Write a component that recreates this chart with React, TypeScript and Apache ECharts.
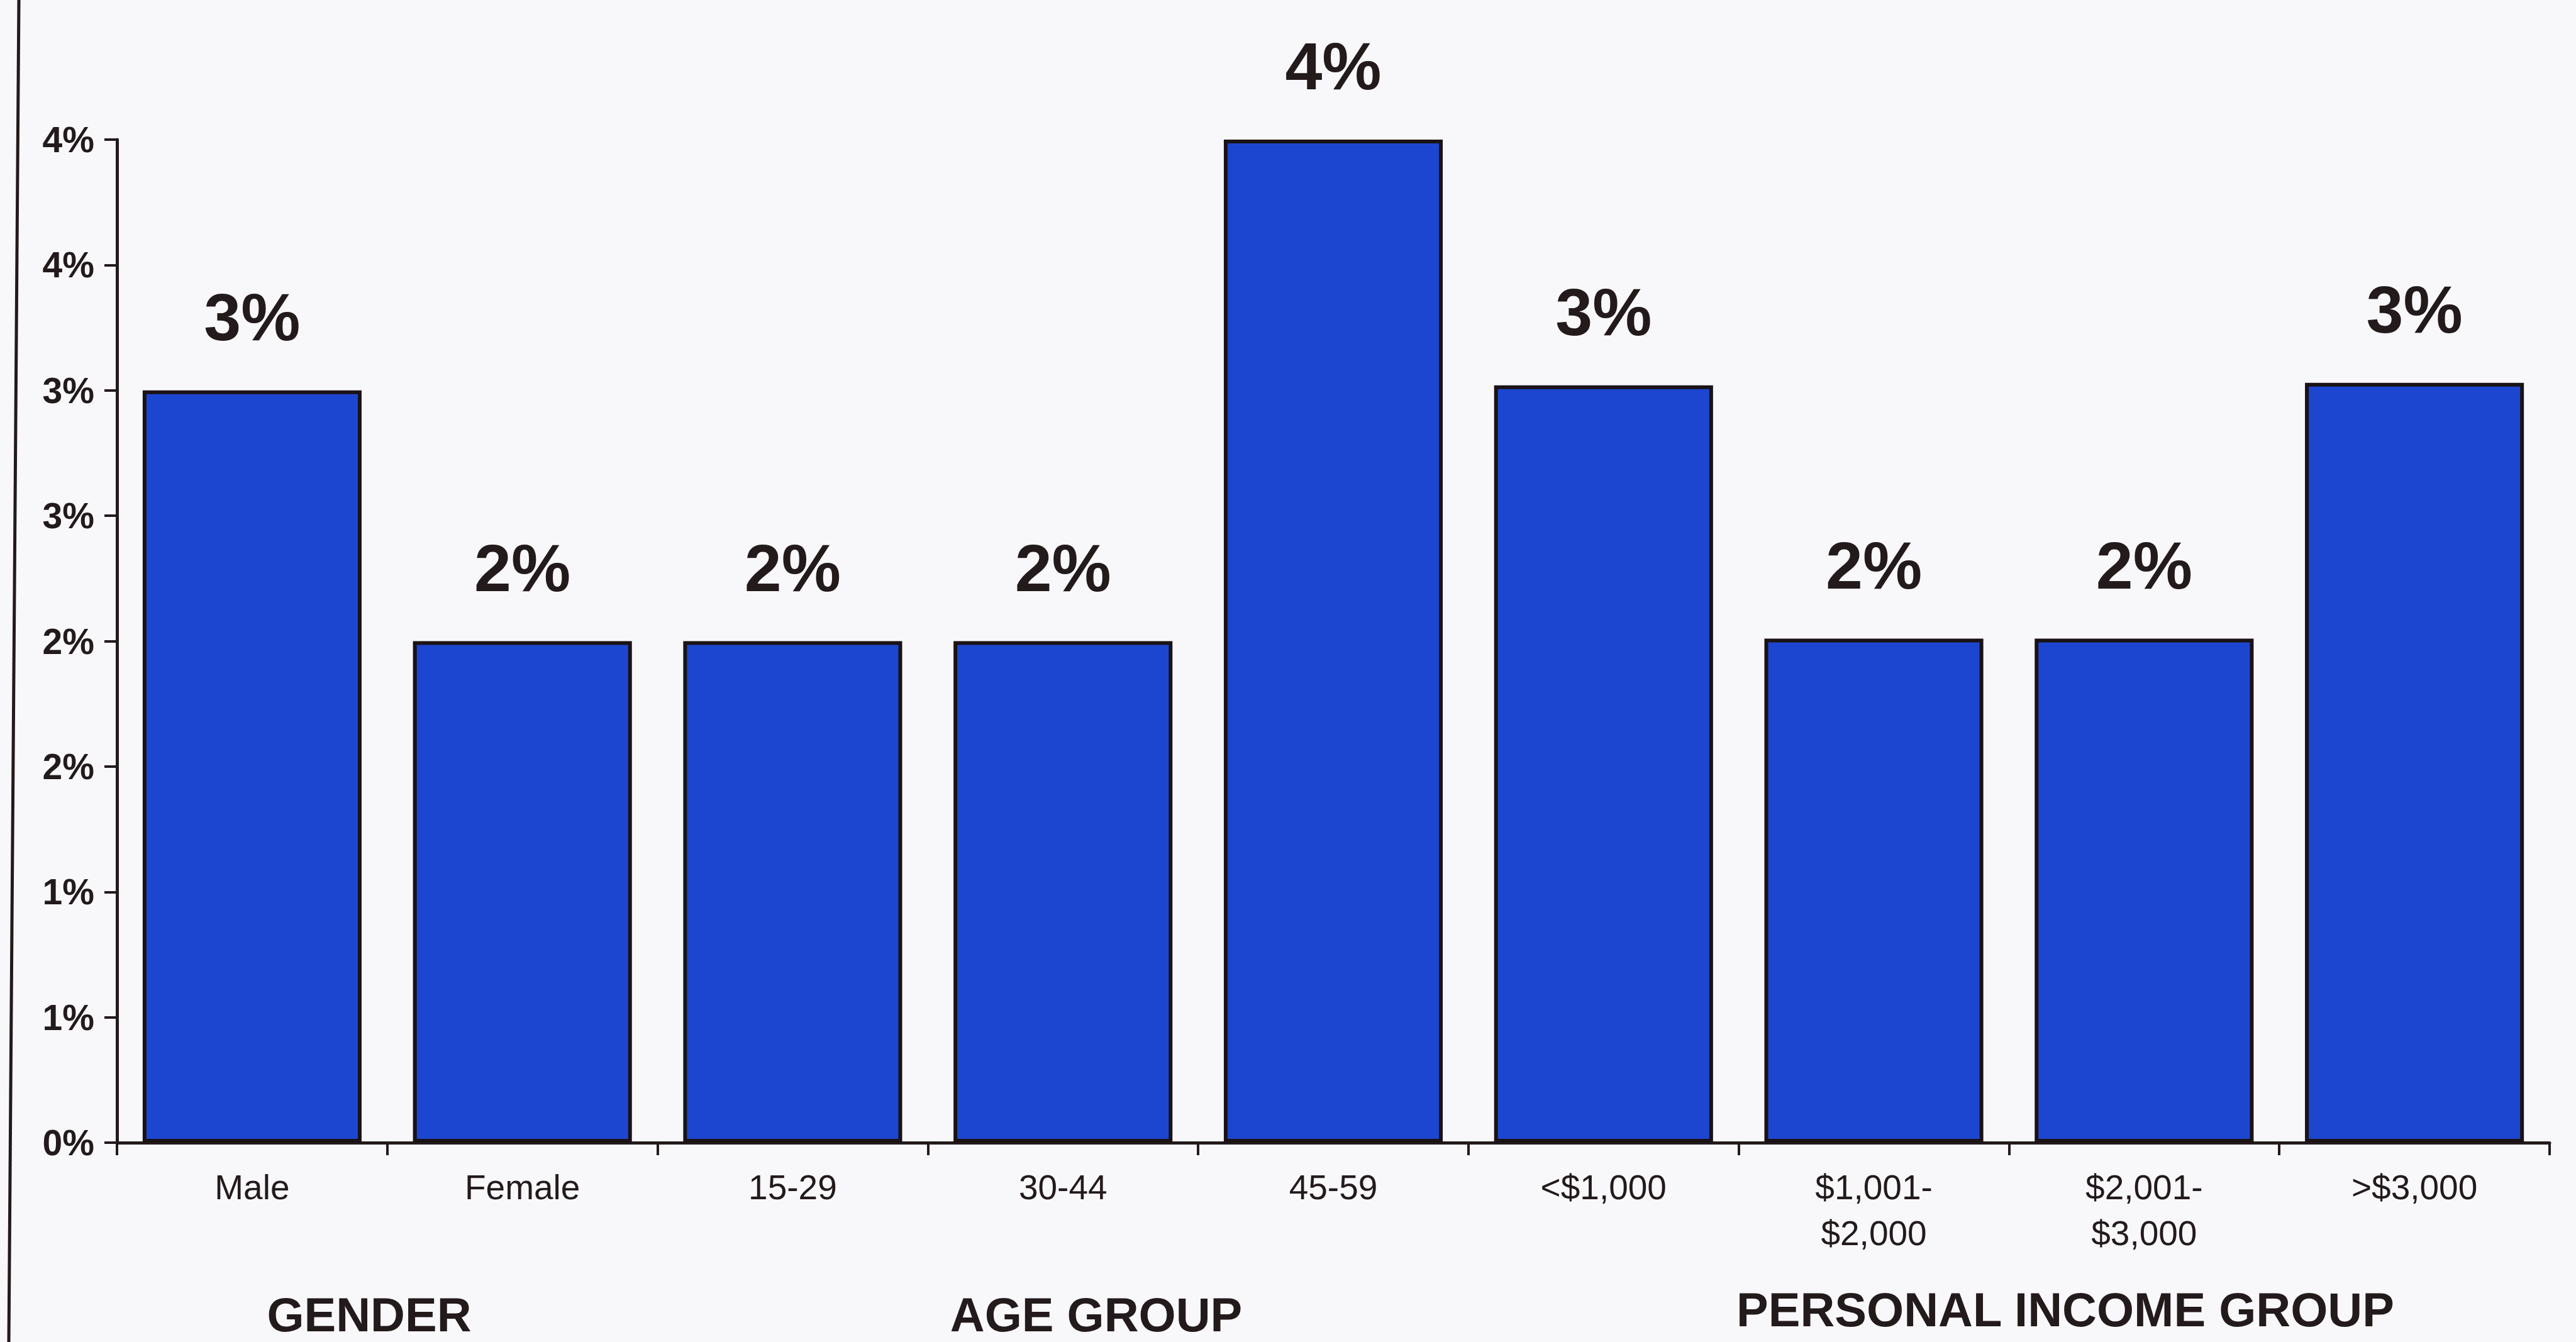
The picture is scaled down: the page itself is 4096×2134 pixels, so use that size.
import React, { useEffect, useRef } from 'react';
import * as echarts from 'echarts';

const categories = ['Male', 'Female', '15-29', '30-44', '45-59', '<$1,000', '$1,001-\n$2,000', '$2,001-\n$3,000', '>$3,000'];
const values = [3.0, 2.0, 2.0, 2.0, 4.0, 3.02, 2.01, 2.01, 3.03];
const valueLabels = ['3%', '2%', '2%', '2%', '4%', '3%', '2%', '2%', '3%'];
const yTickLabels = ['0%', '1%', '1%', '2%', '2%', '3%', '3%', '4%', '4%'];
const groupLabels = ['GENDER', 'AGE GROUP', 'PERSONAL INCOME GROUP'];

const W = 4096;
const H = 2134;
const INK = '#231a1c';

export default function App() {
  const ref = useRef<HTMLDivElement>(null);
  useEffect(() => {
    if (!ref.current) return;
    const chart = echarts.init(ref.current, null, { renderer: 'svg' });
    const groupPos = [
      [587, 2090],
      [1743, 2090],
      [3284, 2082],
    ];
    chart.setOption({
      animation: false,
      backgroundColor: '#f8f8fa',
      grid: { left: 186, right: 42, top: 222, bottom: 317, containLabel: false },
      xAxis: {
        type: 'category',
        data: categories,
        boundaryGap: true,
        axisLine: { show: true, lineStyle: { color: INK, width: 5 } },
        axisTick: { show: true, alignWithLabel: false, length: 20, lineStyle: { color: INK, width: 4 } },
        axisLabel: {
          interval: 0,
          margin: 34,
          color: INK,
          fontFamily: 'Liberation Sans, Arial, sans-serif',
          fontSize: 55,
          lineHeight: 73,
        },
      },
      yAxis: {
        type: 'value',
        min: 0,
        max: 4,
        interval: 0.5,
        splitLine: { show: false },
        axisLine: { show: true, lineStyle: { color: INK, width: 5 } },
        axisTick: { show: true, length: 20, lineStyle: { color: INK, width: 4 } },
        axisLabel: {
          margin: 36,
          color: INK,
          fontFamily: 'Liberation Sans, Arial, sans-serif',
          fontWeight: 'bold',
          fontSize: 57,
          formatter: (_v: number, i: number) => yTickLabels[i] ?? '',
        },
      },
      series: [
        {
          type: 'bar',
          data: values,
          barCategoryGap: '19%',
          itemStyle: { color: '#1d46d0', borderColor: '#1a1214', borderWidth: 6 },
          label: {
            show: true,
            position: 'top',
            distance: 64,
            color: INK,
            fontFamily: 'Liberation Sans, Arial, sans-serif',
            fontWeight: 'bold',
            fontSize: 106,
            formatter: (p: any) => valueLabels[p.dataIndex],
          },
        },
      ],
      graphic: [
        {
          type: 'line',
          shape: { x1: 30, y1: 0, x2: 14, y2: H },
          style: { stroke: INK, lineWidth: 5 },
        },
        ...groupLabels.map((t, i) => ({
          type: 'text',
          x: groupPos[i][0],
          y: groupPos[i][1],
          style: {
            text: t,
            fill: INK,
            font: 'bold 76px "Liberation Sans", Arial, sans-serif',
            textAlign: 'center',
            textVerticalAlign: 'middle',
          },
        })),
      ],
    });
    return () => chart.dispose();
  }, []);
  return <div ref={ref} style={{ position: 'fixed', left: 0, top: 0, width: W, height: H }} />;
}
